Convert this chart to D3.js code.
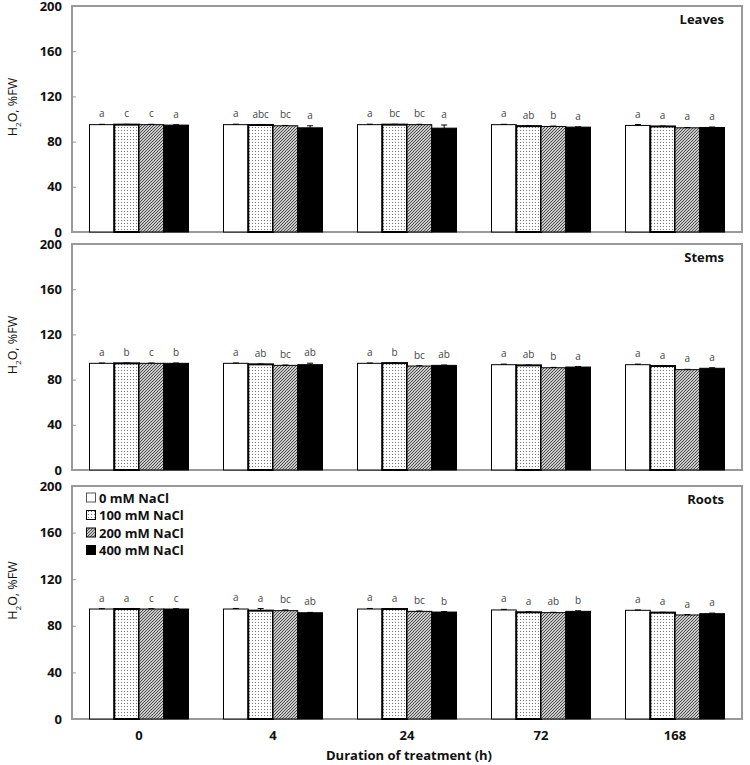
<!DOCTYPE html>
<html><head><meta charset="utf-8">
<script src="https://cdn.jsdelivr.net/npm/d3@7"></script>
<style>body{margin:0;background:#fff}svg{display:block}</style>
</head><body>
<script>
const categories = ["0","4","24","72","168"];
const series = ["0 mM NaCl","100 mM NaCl","200 mM NaCl","400 mM NaCl"];
const yTicks = [0,40,80,120,160,200];
const panelNames = ["Leaves","Stems","Roots"];

const leavesValues = [[95,95,95,94.6],[95,94.7,94,92.2],[95,95,95,91.9],[95,93.7,93.4,92.8],[94.3,93.4,92.2,92.5]];
const leavesErr = [[0.3,0.3,0.3,0.3],[0.4,0.3,0.3,1.8],[0.4,0.3,0.3,2.8],[0.3,0.3,0.3,0.3],[0.8,0.4,0.3,0.4]];
const leavesLetters = [["a","c","c","a"],["a","abc","bc","a"],["a","bc","bc","a"],["a","ab","b","a"],["a","a","a","a"]];

const stemsValues = [[94.4,94.4,94.4,94.4],[94.4,93.5,92.6,93.2],[94.4,94.6,92,92.6],[93.2,92.6,90.5,91.1],[93.2,92,88.8,90]];
const stemsErr = [[0.3,0.3,0.3,0.3],[0.3,0.3,0.3,1.3],[0.3,0.3,0.3,0.3],[0.5,0.3,0.3,0.4],[0.5,0.3,0.3,0.5]];
const stemsLetters = [["a","b","c","b"],["a","ab","bc","ab"],["a","b","bc","ab"],["a","ab","b","a"],["a","a","a","a"]];

const rootsValues = [[94.4,94.4,94.4,94.4],[94.4,93,93,91.2],[94.4,94.4,92.4,91.8],[93.6,91.6,91.3,92.4],[93.3,91.3,89.3,90.4]];
const rootsErr = [[0.3,0.3,0.3,0.3],[0.5,1.8,0.6,0.3],[0.5,0.4,0.3,0.4],[0.5,0.3,0.3,0.5],[0.3,0.3,0.3,0.5]];
const rootsLetters = [["a","a","c","c"],["a","a","bc","ab"],["a","a","bc","b"],["a","a","ab","b"],["a","a","a","a"]];

const panelData = [
  {name: panelNames[0], values: leavesValues, err: leavesErr, letters: leavesLetters},
  {name: panelNames[1], values: stemsValues, err: stemsErr, letters: stemsLetters},
  {name: panelNames[2], values: rootsValues, err: rootsErr, letters: rootsLetters}
];

const W = 750, H = 765;
const left = 72, right = 742;
const layout = [{top:6,bottom:232},{top:244,bottom:470},{top:486,bottom:719}];
const boldFont = "'Open Sans', sans-serif";

const svg = d3.select("body").append("svg").attr("width", W).attr("height", H);
const defs = svg.append("defs");
const dots = defs.append("pattern").attr("id","dots").attr("patternUnits","userSpaceOnUse").attr("width",3).attr("height",3);
dots.append("rect").attr("width",3).attr("height",3).attr("fill","#fff");
dots.append("rect").attr("x",1).attr("y",1).attr("width",1).attr("height",1).attr("fill","#777");
const hatch = defs.append("pattern").attr("id","hatch").attr("patternUnits","userSpaceOnUse").attr("width",3).attr("height",3);
hatch.append("rect").attr("width",3).attr("height",3).attr("fill","#fff");
hatch.append("path").attr("d","M-1,1 L1,-1 M0,3 L3,0 M2,4 L4,2").attr("stroke","#444").attr("stroke-width",1.1);

const fills = ["#fff","url(#dots)","url(#hatch)","#000"];
const strokeW = [1,2,1,1];

const x0 = d3.scaleBand().domain(categories).range([left, right]).padding(0);
const x1 = d3.scaleBand().domain(series).range([17.5, x0.bandwidth() - 17.5]).padding(0);

panelData.forEach((p, pi) => {
  const L = layout[pi];
  const y = d3.scaleLinear().domain([0,200]).range([L.bottom, L.top]);
  const g = svg.append("g");

  g.append("rect").attr("x", left).attr("y", L.top).attr("width", right-left).attr("height", L.bottom-L.top)
    .attr("fill","none").attr("stroke","#999").attr("stroke-width",2);

  const yAxis = d3.axisLeft(y).tickValues(yTicks).tickSize(-4).tickPadding(10);
  const ya = g.append("g").attr("transform",`translate(${left},0)`).call(yAxis);
  ya.select(".domain").remove();
  ya.selectAll(".tick line").attr("stroke","#999");
  ya.selectAll(".tick text").attr("font-family", boldFont).attr("font-weight","bold").attr("font-size",13).attr("fill","#111");

  const yt = g.append("text").attr("transform",`translate(17,${(L.top+L.bottom)/2 - 12}) rotate(-90)`)
    .attr("text-anchor","middle").attr("font-family", boldFont).attr("font-size",12.5).attr("fill","#111");
  yt.append("tspan").text("H");
  yt.append("tspan").text("2").attr("font-size",8).attr("dy",4);
  yt.append("tspan").text("O, %FW").attr("dy",-4);

  categories.forEach((c, ci) => {
    const gg = g.append("g").attr("transform",`translate(${x0(c)},0)`);
    series.forEach((s, si) => {
      const v = p.values[ci][si], e = p.err[ci][si];
      const bx = x1(s), bw = x1.bandwidth();
      gg.append("rect").attr("x", bx).attr("y", y(v)).attr("width", bw).attr("height", y(0)-y(v))
        .attr("fill", fills[si]).attr("stroke","#000").attr("stroke-width", strokeW[si]);
      const cx = bx + bw/2;
      gg.append("line").attr("x1",cx).attr("x2",cx).attr("y1",y(v)).attr("y2",y(v+e)).attr("stroke","#000").attr("stroke-width",1);
      gg.append("line").attr("x1",cx-3).attr("x2",cx+3).attr("y1",y(v+e)).attr("y2",y(v+e)).attr("stroke","#000").attr("stroke-width",1);
      gg.append("text").attr("x", cx).attr("y", y(v+e) - 7).attr("text-anchor","middle")
        .attr("font-family", boldFont).attr("font-size",10).attr("fill","#444").text(p.letters[ci][si]);
    });
  });

  g.append("text").attr("x", right-18).attr("y", L.top+18).attr("text-anchor","end")
    .attr("font-family", boldFont).attr("font-weight","bold").attr("font-size",13).attr("fill","#111").text(p.name);

  if (pi === 2) {
    const xAxis = d3.axisBottom(x0).tickSize(0).tickPadding(12);
    const xa = g.append("g").attr("transform",`translate(0,${L.bottom})`).call(xAxis);
    xa.select(".domain").remove();
    xa.selectAll(".tick text").attr("font-family", boldFont).attr("font-weight","bold").attr("font-size",13).attr("fill","#111");
    g.append("text").attr("x", 409).attr("y", 760).attr("text-anchor","middle")
      .attr("font-family", boldFont).attr("font-weight","bold").attr("font-size",13).attr("fill","#111").text("Duration of treatment (h)");

    const lg = g.append("g");
    series.forEach((s, si) => {
      const ly = 493 + si*17.5;
      lg.append("rect").attr("x", 86.5).attr("y", ly).attr("width", 9).attr("height", 9)
        .attr("fill", fills[si]).attr("stroke", si===0 ? "#555" : "#000").attr("stroke-width", 1);
      lg.append("text").attr("x", 99).attr("y", ly + 9.5).attr("font-family", boldFont).attr("font-weight","bold")
        .attr("font-size",13).attr("fill","#111").text(s);
    });
  }
});
</script>
</body></html>
